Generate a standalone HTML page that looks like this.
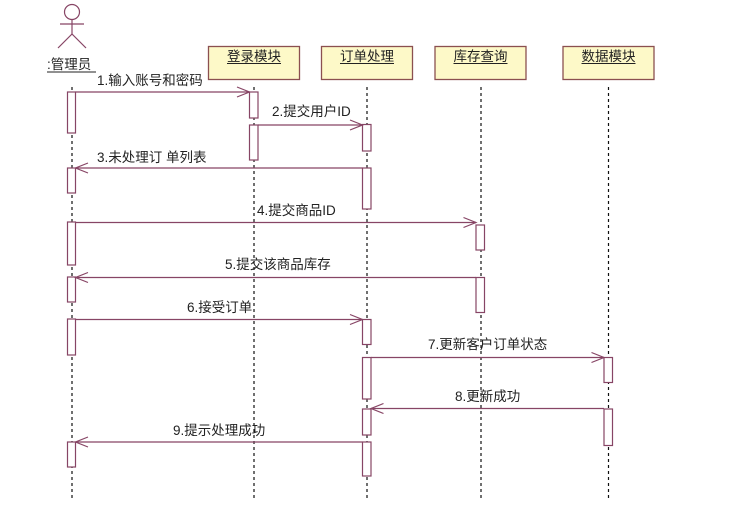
<!DOCTYPE html>
<html>
<head>
<meta charset="utf-8">
<style>
html,body{margin:0;padding:0;background:#fff;}
svg{display:block;}
text{font-family:"Liberation Sans","Noto Sans CJK SC","WenQuanYi Zen Hei",sans-serif;font-size:13.5px;fill:#222;}
</style>
</head>
<body>
<svg width="729" height="514" viewBox="0 0 729 514" xmlns="http://www.w3.org/2000/svg">
<rect x="0" y="0" width="729" height="514" fill="#fff"/>

<!-- Actor -->
<g stroke="#874565" stroke-width="1.2" fill="none">
  <circle cx="72" cy="12" r="7.5"/>
  <line x1="60" y1="24" x2="84" y2="24"/>
  <line x1="72" y1="19.5" x2="72" y2="34"/>
  <line x1="72" y1="34" x2="58" y2="48"/>
  <line x1="72" y1="34" x2="86" y2="48"/>
</g>
<text x="47" y="69">:管理员</text>
<line x1="47" y1="72" x2="96" y2="72" stroke="#222" stroke-width="1"/>

<!-- Object boxes -->
<g fill="#fdf9c8" stroke="#8b5050" stroke-width="1.3">
  <rect x="208.5" y="46.5" width="91" height="33"/>
  <rect x="321.5" y="46.5" width="91" height="33"/>
  <rect x="435" y="46.5" width="91" height="33"/>
  <rect x="563" y="46.5" width="91" height="33"/>
</g>
<g text-anchor="middle">
  <text x="254" y="61">登录模块</text>
  <text x="367" y="61">订单处理</text>
  <text x="480.5" y="61">库存查询</text>
  <text x="608.5" y="61">数据模块</text>
</g>
<g stroke="#222" stroke-width="1">
  <line x1="227" y1="63.5" x2="281" y2="63.5"/>
  <line x1="340" y1="63.5" x2="394" y2="63.5"/>
  <line x1="453.5" y1="63.5" x2="507.5" y2="63.5"/>
  <line x1="581.5" y1="63.5" x2="635.5" y2="63.5"/>
</g>

<!-- Lifelines -->
<g stroke="#111" stroke-width="1.2" stroke-dasharray="3,3">
  <line x1="72" y1="87" x2="72" y2="501"/>
  <line x1="254" y1="87" x2="254" y2="501"/>
  <line x1="367" y1="87" x2="367" y2="501"/>
  <line x1="481" y1="87" x2="481" y2="501"/>
  <line x1="608.5" y1="87" x2="608.5" y2="501"/>
</g>

<!-- Activations -->
<g fill="#fff" stroke="#874565" stroke-width="1.2">
  <rect x="67.5" y="92" width="8" height="41"/>
  <rect x="67.5" y="168" width="8" height="25"/>
  <rect x="67.5" y="222" width="8" height="43"/>
  <rect x="67.5" y="277" width="8" height="25"/>
  <rect x="67.5" y="319" width="8" height="36"/>
  <rect x="67.5" y="442" width="8" height="25"/>

  <rect x="249.5" y="92" width="8.5" height="26"/>
  <rect x="249.5" y="125" width="8.5" height="35"/>

  <rect x="362.5" y="124.5" width="8.5" height="26.5"/>
  <rect x="362.5" y="168" width="8.5" height="41"/>
  <rect x="362.5" y="319.5" width="8.5" height="25"/>
  <rect x="362.5" y="357.5" width="8.5" height="41.5"/>
  <rect x="362.5" y="409" width="8.5" height="26"/>
  <rect x="362.5" y="442" width="8.5" height="34"/>

  <rect x="476" y="225" width="8.5" height="25"/>
  <rect x="476" y="277.5" width="8.5" height="35"/>

  <rect x="604" y="357.5" width="8.5" height="25"/>
  <rect x="604" y="409" width="8.5" height="36.5"/>
</g>

<!-- Messages -->
<g stroke="#874565" stroke-width="1.2" fill="none">
  <!-- 1 -->
  <line x1="75.5" y1="92" x2="249.5" y2="92"/>
  <polyline points="237,87 249.5,92 237,97"/>
  <!-- 2 -->
  <line x1="258" y1="125" x2="362.5" y2="125"/>
  <polyline points="350,120 362.5,125 350,130"/>
  <!-- 3 -->
  <line x1="362.5" y1="168" x2="75.5" y2="168"/>
  <polyline points="88,163 75.5,168 88,173"/>
  <!-- 4 -->
  <line x1="75.5" y1="222.5" x2="476" y2="222.5"/>
  <polyline points="463.5,217.5 476,222.5 463.5,227.5"/>
  <!-- 5 -->
  <line x1="476" y1="277.5" x2="75.5" y2="277.5"/>
  <polyline points="88,272.5 75.5,277.5 88,282.5"/>
  <!-- 6 -->
  <line x1="75.5" y1="319.5" x2="362.5" y2="319.5"/>
  <polyline points="350,314.5 362.5,319.5 350,324.5"/>
  <!-- 7 -->
  <line x1="371" y1="357.5" x2="604" y2="357.5"/>
  <polyline points="591.5,352.5 604,357.5 591.5,362.5"/>
  <!-- 8 -->
  <line x1="604" y1="408.5" x2="371" y2="408.5"/>
  <polyline points="383.5,403.5 371,408.5 383.5,413.5"/>
  <!-- 9 -->
  <line x1="362.5" y1="442" x2="75.5" y2="442"/>
  <polyline points="88,437 75.5,442 88,447"/>
</g>

<!-- Message labels -->
<text x="97" y="85">1.输入账号和密码</text>
<text x="272" y="116">2.提交用户ID</text>
<text x="97" y="162">3.未处理订 单列表</text>
<text x="257" y="215">4.提交商品ID</text>
<text x="225" y="269">5.提交该商品库存</text>
<text x="187" y="312">6.接受订单</text>
<text x="428" y="349">7.更新客户订单状态</text>
<text x="455" y="401">8.更新成功</text>
<text x="173" y="435">9.提示处理成功</text>
</svg>
</body>
</html>
